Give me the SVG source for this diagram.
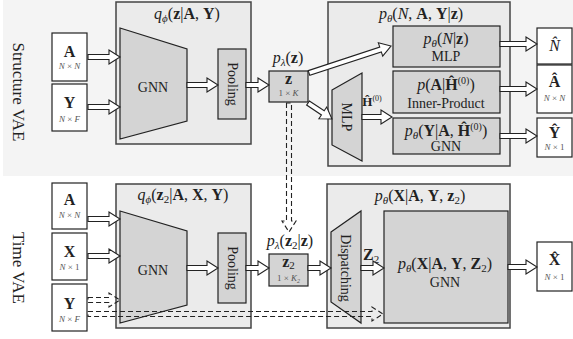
<svg xmlns="http://www.w3.org/2000/svg" width="573" height="339" viewBox="0 0 573 339" font-family="'Liberation Serif','DejaVu Serif',serif">
<style>
.bg{fill:#f4f4f4}
.panel{fill:#ebebeb;stroke:#444;stroke-width:1.5}
.blk{fill:#d4d4d4;stroke:#222;stroke-width:1.2}
.io{fill:#fff;stroke:#222;stroke-width:1.2}
.ar{fill:#fff;stroke:#222;stroke-width:1.1}
.da{fill:none;stroke:#222;stroke-width:1.1;stroke-dasharray:5 3}
text{font-family:'Liberation Serif','DejaVu Serif',serif;fill:#222}
.t{font-size:16px}
.m{font-size:14px}
.s{font-size:9px;fill:#555;font-style:italic}
.b{font-weight:bold}
.i{font-style:italic}
.c{text-anchor:middle}
.sub{font-size:11px}
</style>
<rect class="bg" x="3" y="0" width="570" height="176"/>

<g id="label-structure"><text class="c" font-size="17" transform="translate(13,92) rotate(90)">Structure VAE</text></g>
<g id="label-time"><text class="c" font-size="17" transform="translate(13,268) rotate(90)">Time VAE</text></g>

<g id="enc1">
<rect class="panel" x="116" y="2" width="135" height="142"/>
<text class="t c" x="187" y="19"><tspan class="i">q</tspan><tspan class="i sub" dy="3">ϕ</tspan><tspan dy="-3">(</tspan><tspan class="b">z</tspan>|<tspan class="b">A</tspan>, <tspan class="b">Y</tspan>)</text>
</g>
<g id="gnn1"><path class="blk" d="M120 28 L187 49 L187 121 L120 139 Z"/><text class="m c" x="153" y="92">GNN</text></g>
<g id="pool1"><rect class="blk" x="218" y="49" width="28" height="70"/><text class="m c" transform="translate(228,84) rotate(90)">Pooling</text></g>
<g id="inA1"><rect class="io" x="52" y="33" width="35" height="48"/><text class="t b c" x="69.5" y="57">A</text><text class="s c" x="69.5" y="69">N <tspan font-style="normal">×</tspan> N</text></g>
<g id="inY1"><rect class="io" x="52" y="84" width="35" height="47"/><text class="t b c" x="69.5" y="108">Y</text><text class="s c" x="69.5" y="122">N <tspan font-style="normal">×</tspan> F</text></g>
<g id="z1">
<text class="t c" x="288" y="63"><tspan class="i">p</tspan><tspan class="i sub" dy="3">λ</tspan><tspan dy="-3">(</tspan><tspan class="b">z</tspan>)</text>
<rect class="blk" x="269" y="71" width="39" height="31"/>
<text class="t b c" x="288.5" y="84">z</text><text class="s c" x="288.5" y="96"><tspan font-style="normal">1 × </tspan>K</text>
</g>
<g id="dec1">
<rect class="panel" x="328" y="2" width="182" height="164"/>
<text class="t c" x="421" y="19"><tspan class="i">p</tspan><tspan class="i sub" dy="3">θ</tspan><tspan dy="-3">(</tspan><tspan class="i">N</tspan>, <tspan class="b">A</tspan>, <tspan class="b">Y</tspan>|<tspan class="b">z</tspan>)</text>
</g>
<g id="mlp1"><path class="blk" d="M332 90 L362 73 L362 161 L332 145 Z"/><text class="m c" transform="translate(342,117) rotate(90)">MLP</text></g>
<g id="hlabel"><text class="c" font-size="13" x="372" y="106"><tspan class="b">Ĥ</tspan><tspan font-size="8" dy="-5">(0)</tspan></text></g>
<g id="pN"><rect class="blk" x="393" y="26" width="107" height="41"/><text class="t c" x="446" y="44"><tspan class="i">p</tspan><tspan class="i sub" dy="3">θ</tspan><tspan dy="-3">(</tspan><tspan class="i">N</tspan>|<tspan class="b">z</tspan>)</text><text class="m c" x="446" y="61">MLP</text></g>
<g id="pA"><rect class="blk" x="393" y="71" width="107" height="42"/><text class="t c" x="446" y="90"><tspan class="i">p</tspan>(<tspan class="b">A</tspan>|<tspan class="b">Ĥ</tspan><tspan font-size="10" dy="-6">(0)</tspan><tspan dy="6">)</tspan></text><text class="m c" x="446" y="108">Inner-Product</text></g>
<g id="pY"><rect class="blk" x="393" y="118" width="107" height="36"/><text class="t c" x="446" y="136"><tspan class="i">p</tspan><tspan class="i sub" dy="3">θ</tspan><tspan dy="-3">(</tspan><tspan class="b">Y</tspan>|<tspan class="b">A</tspan>, <tspan class="b">Ĥ</tspan><tspan font-size="10" dy="-6">(0)</tspan><tspan dy="6">)</tspan></text><text class="m c" x="446" y="151">GNN</text></g>
<g id="outN"><rect class="io" x="537" y="28" width="35" height="36"/><text class="t i c" x="554.5" y="51">N̂</text></g>
<g id="outA"><rect class="io" x="537" y="65" width="35" height="48"/><text class="t b c" x="554.5" y="87">Â</text><text class="s c" x="554.5" y="101">N <tspan font-style="normal">×</tspan> N</text></g>
<g id="outY"><rect class="io" x="537" y="118" width="35" height="39"/><text class="t b c" x="554.5" y="138">Ŷ</text><text class="s c" x="554.5" y="150">N <tspan font-style="normal">× 1</tspan></text></g>

<g id="enc2">
<rect class="panel" x="116" y="184" width="135" height="144"/>
<text class="t c" x="183" y="200"><tspan class="i">q</tspan><tspan class="i sub" dy="3">ϕ</tspan><tspan dy="-3">(</tspan><tspan class="b">z</tspan><tspan class="sub" dy="3">2</tspan><tspan dy="-3">|</tspan><tspan class="b">A</tspan>, <tspan class="b">X</tspan>, <tspan class="b">Y</tspan>)</text>
</g>
<g id="gnn2"><path class="blk" d="M120 211 L187 231 L187 305 L120 323 Z"/><text class="m c" x="153" y="275">GNN</text></g>
<g id="pool2"><rect class="blk" x="218" y="233" width="28" height="70"/><text class="m c" transform="translate(228,268) rotate(90)">Pooling</text></g>
<g id="inA2"><rect class="io" x="52" y="183" width="35" height="46"/><text class="t b c" x="69.5" y="205">A</text><text class="s c" x="69.5" y="218">N <tspan font-style="normal">×</tspan> N</text></g>
<g id="inX2"><rect class="io" x="52" y="233" width="35" height="47"/><text class="t b c" x="69.5" y="257">X</text><text class="s c" x="69.5" y="270">N <tspan font-style="normal">× 1</tspan></text></g>
<g id="inY2"><rect class="io" x="52" y="284" width="35" height="47"/><text class="t b c" x="69.5" y="309">Y</text><text class="s c" x="69.5" y="322">N <tspan font-style="normal">×</tspan> F</text></g>
<g id="z2">
<text class="t c" x="290" y="246"><tspan class="i">p</tspan><tspan class="i sub" dy="3">λ</tspan><tspan dy="-3">(</tspan><tspan class="b">z</tspan><tspan class="sub" dy="3">2</tspan><tspan dy="-3">|</tspan><tspan class="b">z</tspan>)</text>
<rect class="blk" x="269" y="254" width="39" height="32"/>
<text class="t b c" x="288.5" y="267">z<tspan class="sub" font-weight="normal" dy="2">2</tspan></text><text class="s c" x="288.5" y="281"><tspan font-style="normal">1 × </tspan>K<tspan font-size="6" dy="2">2</tspan></text>
</g>
<g id="dec2">
<rect class="panel" x="327" y="184" width="183" height="144"/>
<text class="t c" x="420" y="201"><tspan class="i">p</tspan><tspan class="i sub" dy="3">θ</tspan><tspan dy="-3">(</tspan><tspan class="b">X</tspan>|<tspan class="b">A</tspan>, <tspan class="b">Y</tspan>, <tspan class="b">z</tspan><tspan class="sub" dy="3">2</tspan><tspan dy="-3">)</tspan></text>
</g>
<g id="disp"><path class="blk" d="M331 232 L361 211 L361 323 L331 302 Z"/><text class="m c" transform="translate(341,268) rotate(90)">Dispatching</text></g>
<g id="z2label"><text class="t b" x="363" y="260">Z<tspan class="sub" font-weight="normal" dy="3">2</tspan></text></g>
<g id="gnnX"><rect class="blk" x="384" y="211" width="124" height="112"/><text class="t c" x="445" y="269"><tspan class="i">p</tspan><tspan class="i sub" dy="3">θ</tspan><tspan dy="-3">(</tspan><tspan class="b">X</tspan>|<tspan class="b">A</tspan>, <tspan class="b">Y</tspan>, <tspan class="b">Z</tspan><tspan class="sub" dy="3">2</tspan><tspan dy="-3">)</tspan></text><text class="m c" x="445" y="287">GNN</text></g>
<g id="outX"><rect class="io" x="537" y="242" width="35" height="49"/><text class="t b c" x="554.5" y="265">X̂</text><text class="s c" x="554.5" y="280">N <tspan font-style="normal">× 1</tspan></text></g>

<g id="connectors">
<path class="ar" d="M88 54.5 H109 V50 L120 57 L109 64 V59.5 H88 Z"/>
<path class="ar" d="M88 104.5 H109 V100 L120 107 L109 114 V109.5 H88 Z"/>
<path class="ar" d="M187 82.5 H207 V78 L218 85 L207 92 V87.5 H187 Z"/>
<path class="ar" d="M246 82.5 H258 V78 L269 85 L258 92 V87.5 H246 Z"/>
<path class="ar" transform="translate(309,73) rotate(-18.2)" d="M0 -2.5 H75.3 V-7 L86.3 0 L75.3 7 V2.5 H0 Z"/>
<path class="ar" transform="translate(308,103) rotate(33.7)" d="M0 -2.5 H17.8 V-7 L28.8 0 L17.8 7 V2.5 H0 Z"/>
<path class="ar" d="M362 114.5 H381 V110 L392 117 L381 124 V119.5 H362 Z"/>
<path class="ar" d="M500 41.5 H526 V37 L537 44 L526 51 V46.5 H500 Z"/>
<path class="ar" d="M500 86.5 H526 V82 L537 89 L526 96 V91.5 H500 Z"/>
<path class="ar" d="M500 133.5 H526 V129 L537 136 L526 143 V138.5 H500 Z"/>
<path class="ar" d="M88 216.5 H109 V212 L120 219 L109 226 V221.5 H88 Z"/>
<path class="ar" d="M88 253.5 H109 V249 L120 256 L109 263 V258.5 H88 Z"/>
<path class="da" d="M88 297.5 H109 V293 L120 300 L109 307 V302.5 H88 Z"/>
<path class="ar" d="M187 265.5 H207 V261 L218 268 L207 275 V270.5 H187 Z"/>
<path class="ar" d="M246 265.5 H258 V261 L269 268 L258 275 V270.5 H246 Z"/>
<path class="ar" d="M308 265.5 H320 V261 L331 268 L320 275 V270.5 H308 Z"/>
<path class="ar" d="M361 265.5 H373 V261 L384 268 L373 275 V270.5 H361 Z"/>
<path class="ar" d="M508 264.5 H526 V260 L537 267 L526 274 V269.5 H508 Z"/>
<path class="da" d="M88 311.5 H372 V307 L383 314 L372 321 V316.5 H88 Z"/>
<path class="da" d="M286.5 103 V221 H282 L289 232 L296 221 H291.5 V103 Z"/>
</g>
</svg>
